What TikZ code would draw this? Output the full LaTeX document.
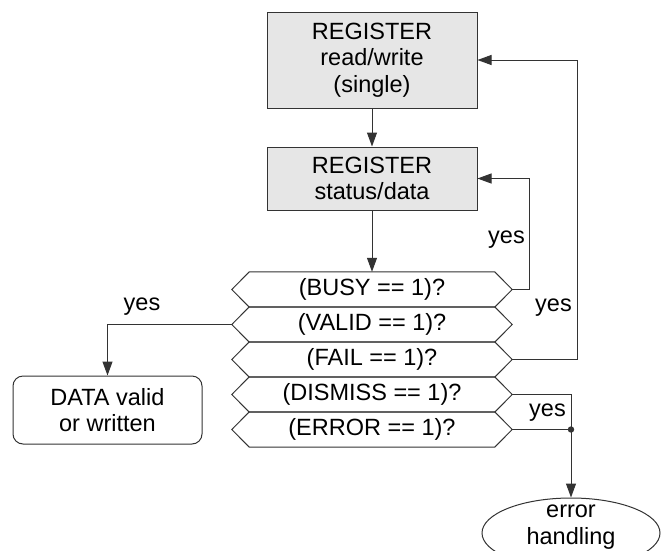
\documentclass[tikz,border=0pt]{standalone}
\usepackage{fontspec}
\setmainfont{Liberation Sans}
\usetikzlibrary{arrows.meta,shapes.geometric}
\definecolor{boxgray}{HTML}{E6E6E6}
\definecolor{linegray}{HTML}{333333}
\tikzset{
  txt/.style={font=\fontsize{23.5}{26.5}\selectfont, align=center, text=black},
  regbox/.style={txt, draw=linegray, fill=boxgray, line width=1pt, minimum width=210pt, inner sep=0pt},
  hexcore/.style={txt, minimum width=245pt, minimum height=35pt, inner sep=0pt},
  hexline/.style={draw=linegray, line width=1pt, line join=miter},
  databox/.style={txt, draw=linegray, line width=1pt, rounded corners=10pt, minimum width=189pt, minimum height=68pt, inner sep=0pt},
  errell/.style={ellipse, draw=linegray, line width=1pt, minimum width=178pt, minimum height=70pt, inner sep=0pt},
  lbl/.style={txt, inner sep=0pt},
  conn/.style={draw=linegray, line width=1pt},
  arr/.style={conn, -{Triangle[length=14pt,width=10pt]}}
}
\begin{document}
\begin{tikzpicture}[x=1pt,y=-1pt]
\useasboundingbox (0,0) rectangle (662,550);
% registers
\node[regbox, minimum height=96pt] (reg1) at (372,60) {REGISTER\\read/write\\(single)};
\node[regbox, minimum height=63pt] (reg2) at (372,178.5) {REGISTER\\status/data};
% decision stack
\node[hexcore] (busy)    at (372,289.5) {(BUSY == 1)?};
\node[hexcore] (valid)   at (372,324.5) {(VALID == 1)?};
\node[hexcore] (fail)    at (372,359.5) {(FAIL == 1)?};
\node[hexcore] (dismiss) at (372,394.5) {(DISMISS == 1)?};
\node[hexcore] (error)   at (372,429.5) {(ERROR == 1)?};
\foreach \n in {busy,valid,fail,dismiss,error}{
  \draw[hexline] (\n.north west) -- (\n.north east) -- ([xshift=17.5pt]\n.east)
     -- (\n.south east) -- (\n.south west) -- ([xshift=-17.5pt]\n.west) -- cycle;
  \coordinate (\n R) at ([xshift=17.5pt]\n.east);
  \coordinate (\n L) at ([xshift=-17.5pt]\n.west);
}
% outcomes
\node[databox] (data) at (107.5,410) {DATA valid\\or written};
\node[errell] (err) at (571,533) {};
\node[txt] (errtxt) at (571,527) {error\\handling};
% connectors
\draw[arr] (reg1.south) -- (reg2.north);
\draw[arr] (reg2.south) -- (busy.north);
\draw[arr] (busyR) -- ++(17,0) |- (reg2.east);
\draw[arr] (failR) -- ++(65,0) |- (reg1.east);
\draw[arr] (validL) -| (data.north);
\coordinate (jn) at (571,429.5);
\draw[conn] (dismissR) -| (jn);
\draw[conn] (errorR) -- (jn);
\fill[linegray] (jn) circle (3.2pt);
\draw[arr] (jn) -- (err.north);
% labels
\node[lbl] (yes1) at (506.5,240) {yes};
\node[lbl] (yes2) at (553.5,308) {yes};
\node[lbl] (yes3) at (142,307) {yes};
\node[lbl] (yes4) at (547.5,413) {yes};
\end{tikzpicture}
\end{document}
